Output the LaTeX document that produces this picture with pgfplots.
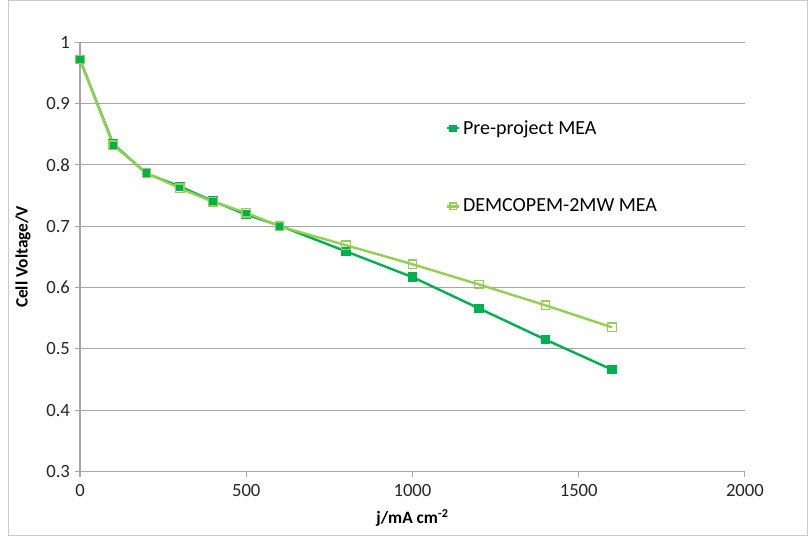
\documentclass[border=0pt]{standalone}
\usepackage{pgfplots}
\pgfplotsset{compat=1.18}
\usepackage{fontspec}
\setmainfont{Carlito}
\definecolor{dkg}{HTML}{00B050}
\definecolor{ltg}{HTML}{92D050}
\definecolor{grd}{HTML}{A6A6A6}
\begin{document}
\begin{tikzpicture}
\begin{axis}[
  name=ax, at={(0,0)}, anchor=south west,
  scale only axis, width=498.75pt, height=321.75pt,
  xmin=0, xmax=2000, ymin=0.3, ymax=1,
  xtick={0,500,...,2000}, ytick={0.3,0.4,...,1.0},
  yticklabels={0.3,0.4,0.5,0.6,0.7,0.8,0.9,1},
  xticklabels={0,500,1000,1500,2000},
  axis x line*=bottom, axis y line*=left,
  axis line style={grd, line width=0.8pt, -},
  ymajorgrids, major grid style={grd, line width=0.8pt},
  tick style={grd, line width=0.8pt},
  major tick length=4pt,
  xtick align=outside, ytick align=outside,
  /pgf/number format/assume math mode=true,
  ticklabel style={font=\fontsize{14}{16}\selectfont, text=black!85},
  xticklabel style={yshift=-2pt},
  xlabel={\textbf{j/mA cm\textsuperscript{-2}}},
  ylabel={\textbf{Cell Voltage/V}},
  label style={font=\fontsize{13}{15}\selectfont},
  xlabel style={yshift=-3pt},
  ylabel style={yshift=5pt},
  legend style={at={(0.55,0.825)}, anchor=north west, draw=none, fill=none,
    font=\fontsize{15}{17}\selectfont, row sep=43pt, inner sep=0pt},
  legend cell align=left,
  legend image code/.code={\draw[#1, mark size=2.4pt] (0pt,0pt) -- (9pt,0pt) plot coordinates {(4.5pt,0pt)};},
]
\addplot[dkg, line width=1.8pt, mark=square*, mark size=3.2pt, mark options={solid, fill=dkg, line width=0.8pt}] coordinates {
(0,0.972) (100,0.834) (200,0.786) (300,0.765) (400,0.741) (500,0.719) (600,0.701)
(800,0.659) (1000,0.617) (1200,0.566) (1400,0.515) (1600,0.466)};
\addlegendentry{Pre-project MEA}
\addplot[ltg, line width=1.8pt, mark=square, mark size=3.2pt, mark options={solid, fill=white, line width=1pt}] coordinates {
(0,0.972) (100,0.832) (200,0.787) (300,0.762) (400,0.740) (500,0.722) (600,0.700)
(800,0.669) (1000,0.638) (1200,0.605) (1400,0.571) (1600,0.535)};
\addlegendentry{DEMCOPEM-2MW MEA}
\end{axis}
\draw[grd!60, line width=0.6pt] ([xshift=-54pt,yshift=-48pt]ax.south west) rectangle ([xshift=47pt,yshift=31.5pt]ax.north east);
\useasboundingbox ([xshift=-60pt,yshift=-48.75pt]ax.south west) rectangle ([xshift=47.25pt,yshift=31.5pt]ax.north east);
\end{tikzpicture}
\end{document}
